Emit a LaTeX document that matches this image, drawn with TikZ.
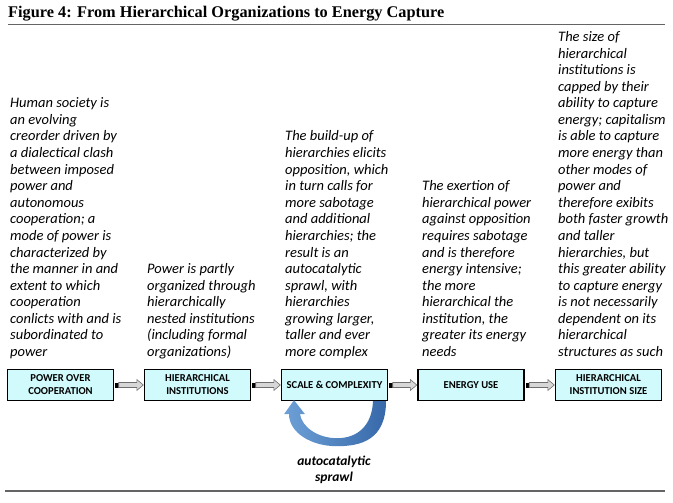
\documentclass[tikz,border=0pt]{standalone}
\usepackage{fontspec}
\setmainfont{Carlito}
\newfontfamily\titlefont{Liberation Serif}
\usetikzlibrary{calc}
\definecolor{boxfill}{RGB}{208,250,252}
\definecolor{arrowgrey}{RGB}{215,215,215}
\definecolor{arrowedge}{RGB}{110,110,110}
\definecolor{loopblueA}{RGB}{110,160,215}
\definecolor{loopblueB}{RGB}{55,105,170}
\definecolor{rulegrey}{RGB}{100,100,100}
\newcommand{\linkarrow}[2]{%
  \fill[black] ($(#1.east)+(1,-2.5)$) rectangle ($(#1.east)+(4.5,2.5)$);
  \draw[blockarr] ($(#1.east)+(4.5,-2.5)$) -- ($(#2.west)+(-7,-2.5)$) -- ($(#2.west)+(-7,-5.5)$)
    -- ($(#2.west)+(-0.5,0)$) -- ($(#2.west)+(-7,5.5)$) -- ($(#2.west)+(-7,2.5)$)
    -- ($(#1.east)+(4.5,2.5)$) -- cycle;}
\begin{document}
\begin{tikzpicture}[x=1pt,y=-1pt,
  stagebox/.style={draw=black, line width=1.4pt, fill=boxfill, minimum width=106pt,
    minimum height=31pt, inner sep=1pt, align=center,
    font=\fontsize{10.6}{13}\selectfont\bfseries},
  blurb/.style={anchor=base west, inner sep=0pt, align=left,
    font=\fontsize{14.5}{16.58}\selectfont\itshape},
  blockarr/.style={fill=arrowgrey, draw=arrowedge, line width=0.6pt},
  rulestyle/.style={draw=rulegrey, line width=1.3pt}]
\useasboundingbox (0,0) rectangle (673,503);
\node[anchor=base west, inner sep=0pt, font=\titlefont\fontsize{16.3}{18}\selectfont\bfseries]
  (title) at (8,18) {Figure 4: From Hierarchical Organizations to Energy Capture};
\coordinate (rtl) at (8,24.5); \coordinate (rtr) at (665,24.5);
\draw[rulestyle] (rtl) -- (rtr);
\coordinate (rbl) at (5,491); \coordinate (rbr) at (665,491);
\draw[rulestyle] (rbl) -- (rbr);

\node[stagebox] (poc) at (60.5,385) {POWER OVER\\COOPERATION};
\node[stagebox] (hi) at (197.5,385) {HIERARCHICAL\\INSTITUTIONS};
\node[stagebox] (sc) at (334.5,385) {SCALE \& COMPLEXITY};
\node[stagebox] (eu) at (471,385) {ENERGY USE};
\node[stagebox] (his) at (608.5,385) {HIERARCHICAL\\INSTITUTION SIZE};

\linkarrow{poc}{hi}
\linkarrow{hi}{sc}
\linkarrow{sc}{eu}
\linkarrow{eu}{his}

\begin{scope}[shift={(sc.south)}]
\shade[left color=loopblueA, right color=loopblueB]
  (51.5,0) .. controls (51.5,39) and (26,45) .. (2.5,45)
  .. controls (-24,45) and (-45.5,31) .. (-45.5,13)
  -- (-50.5,13) -- (-40.5,-1) -- (-29.5,13) -- (-34.5,13)
  .. controls (-32.5,26) and (-16.5,37) .. (2.5,37)
  .. controls (23.5,37) and (37.5,24) .. (38.5,0) -- cycle;
\end{scope}
\node[align=center, inner sep=0pt, font=\fontsize{13.5}{16}\selectfont\bfseries\itshape]
  (auto) at (334,470) {autocatalytic\\sprawl};

\node[blurb] (t1) at (10,356.5) {Human society is\\an evolving\\creorder driven by\\a dialectical clash\\between imposed\\power and\\autonomous\\cooperation; a\\mode of power is\\characterized by\\the manner in and\\extent to which\\cooperation\\conlicts with and is\\subordinated to\\power};
\node[blurb] (t2) at (147,356.5) {Power is partly\\organized through\\hierarchically\\nested institutions\\(including formal\\organizations)};
\node[blurb] (t3) at (285,356.5) {The build-up of\\hierarchies elicits\\opposition, which\\in turn calls for\\more sabotage\\and additional\\hierarchies; the\\result is an\\autocatalytic\\sprawl, with\\hierarchies\\growing larger,\\taller and ever\\more complex};
\node[blurb] (t4) at (422,356.5) {The exertion of\\hierarchical power\\against opposition\\requires sabotage\\and is therefore\\energy intensive;\\the more\\hierarchical the\\institution, the\\greater its energy\\needs};
\node[blurb] (t5) at (558,356.5) {The size of\\hierarchical\\institutions is\\capped by their\\ability to capture\\energy; capitalism\\is able to capture\\more energy than\\other modes of\\power and\\therefore exibits\\both faster growth\\and taller\\hierarchies, but\\this greater ability\\to capture energy\\is not necessarily\\dependent on its\\hierarchical\\structures as such};
\end{tikzpicture}
\end{document}
